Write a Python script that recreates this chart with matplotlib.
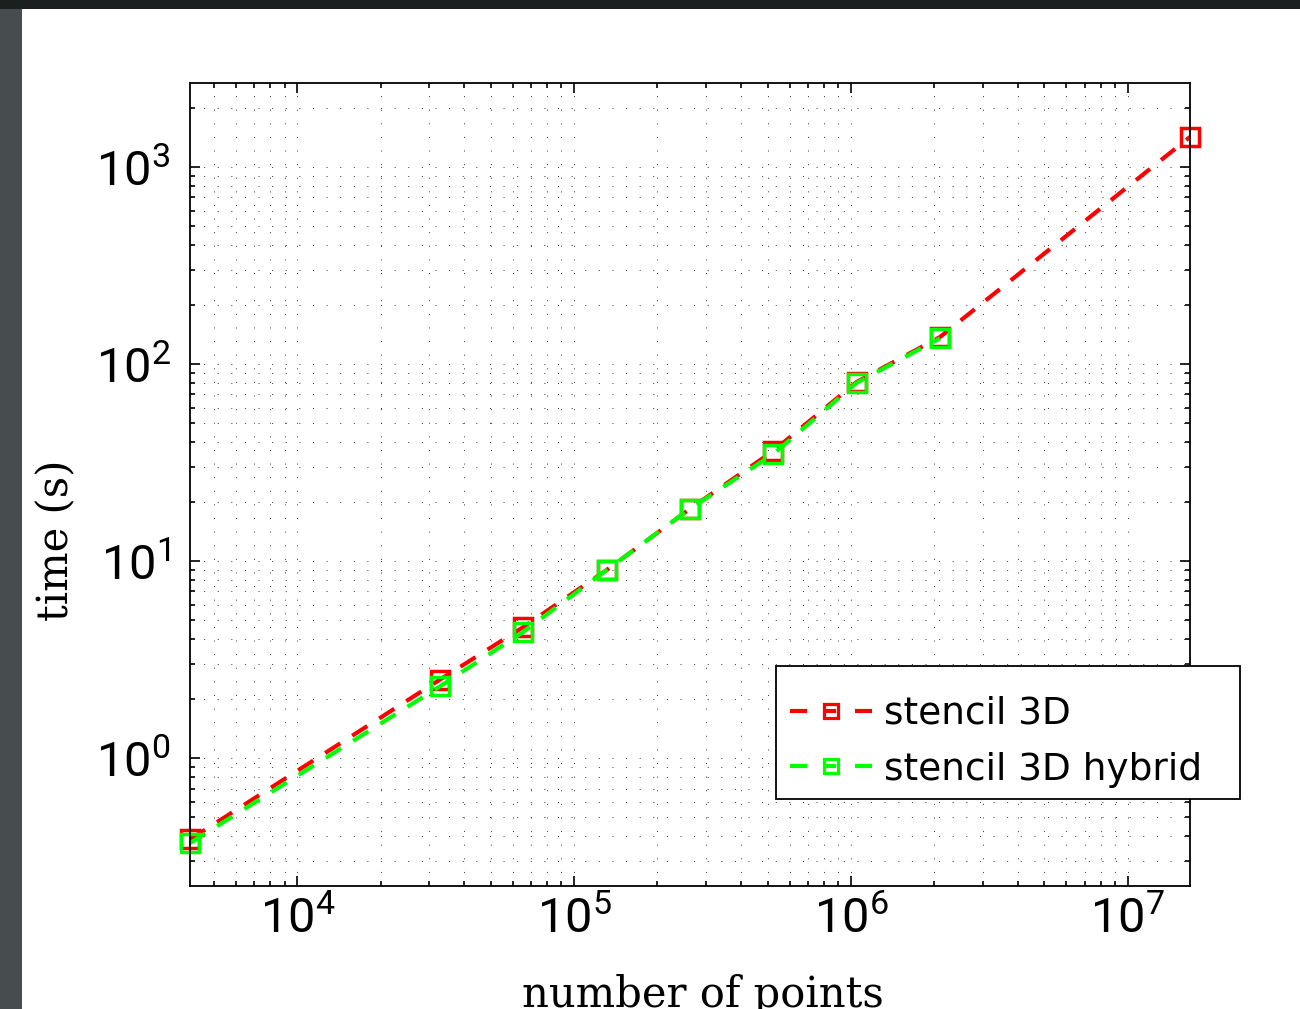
import math

import matplotlib
matplotlib.use("Agg")
import matplotlib.pyplot as plt
from matplotlib.lines import Line2D
from matplotlib.patches import Rectangle
from matplotlib.ticker import FuncFormatter, LogLocator

# data
n_points = [4096, 32768, 65536, 131072, 262144, 524288, 1048576, 2097152, 16777216]
t_stencil = [0.386, 2.50, 4.62, 9.0, 18.4, 36.2, 81.0, 137.0, 1420.0]
n_points_hybrid = [4096, 32768, 65536, 131072, 262144, 524288, 1048576, 2097152]
t_hybrid = [0.370, 2.31, 4.37, 9.0, 18.4, 34.9, 80.2, 135.0]
labels = ["stencil 3D", "stencil 3D hybrid"]
colors = ["#ff0000", "#00ff00"]

plt.rcParams["mathtext.fontset"] = "custom"
plt.rcParams["mathtext.rm"] = "Roboto"
plt.rcParams["mathtext.it"] = "Roboto:italic"
plt.rcParams["mathtext.bf"] = "Roboto:bold"

W, H = 1300, 1009
fig = plt.figure(figsize=(W / 100, H / 100), dpi=100, facecolor="#474d4e")
# white page on a dark background, dark strip at the top
fig.add_artist(Rectangle((22 / W, 0), 1, 1 - 9 / H, transform=fig.transFigure,
                         facecolor="white", edgecolor="none", zorder=-10))
fig.add_artist(Rectangle((0, 1 - 9 / H), 1, 9 / H, transform=fig.transFigure,
                         facecolor="#1b1f1f", edgecolor="none", zorder=-10))

ax = fig.add_axes([190 / W, 1 - 886 / H, 1000 / W, 803 / H])
ax.set_xscale("log")
ax.set_yscale("log")

line_kw = dict(lw=3, marker="s", ms=13, mew=2.5, mfc="none", dashes=(4.3, 3.4),
               clip_on=False)
ax.plot(n_points, t_stencil, color=colors[0], **line_kw)
ax.plot(n_points_hybrid, t_hybrid, color=colors[1], **line_kw)

ax.set_xlim(4096, 16777216)
ax.set_ylim(0.224, 2667)
ax.xaxis.set_major_locator(LogLocator(base=10, numticks=20))
ax.yaxis.set_major_locator(LogLocator(base=10, numticks=20))
ax.xaxis.set_minor_locator(LogLocator(base=10, subs=range(2, 10), numticks=100))
ax.yaxis.set_minor_locator(LogLocator(base=10, subs=range(2, 10), numticks=100))
fmt = FuncFormatter(lambda v, p: r"$10^{%d}$" % round(math.log10(v)))
ax.xaxis.set_major_formatter(fmt)
ax.yaxis.set_major_formatter(fmt)

ax.grid(True, which="both", color="#333333", lw=0.7, linestyle=(0, (1, 13)))
ax.tick_params(which="both", direction="in", top=True, right=True, width=1.2)
ax.tick_params(which="major", length=7, labelsize=35)
ax.tick_params(which="minor", length=3.5)
ax.tick_params(axis="x", which="major", pad=6)
ax.tick_params(axis="y", which="major", pad=14)
for s in ax.spines.values():
    s.set_linewidth(1.3)

ax.set_xlabel("number of points", family="DejaVu Serif", fontsize=30)
ax.set_ylabel("time (s)", family="DejaVu Serif", fontsize=30)
ax.xaxis.set_label_coords(0.513, -0.11)
ax.yaxis.set_label_coords(-0.113, 0.431)

# legend: MATLAB-like handle (dash, marker with line, dash), box sticks out
fig.add_artist(Rectangle((776 / W, 1 - 799 / H), 464 / W, 133 / H,
                         transform=fig.transFigure, facecolor="white",
                         edgecolor="black", lw=1.3, zorder=4))
handles = [Line2D([], [], color=c, lw=3, dashes=(4.1, 4.55, 2.4, 4.55, 4.1, 20),
                  marker="s", ms=10, mew=2.3, mfc="none") for c in colors]
leg = fig.legend(handles, labels, loc="upper left",
                 bbox_to_anchor=(790 / W, 1 - 696 / H), frameon=False,
                 borderpad=0, borderaxespad=0, fontsize=27, numpoints=1,
                 handlelength=2.2, handletextpad=0.3, labelspacing=0.52)
leg.set_zorder(5)

fig.savefig("out.png", dpi=100, facecolor=fig.get_facecolor())
